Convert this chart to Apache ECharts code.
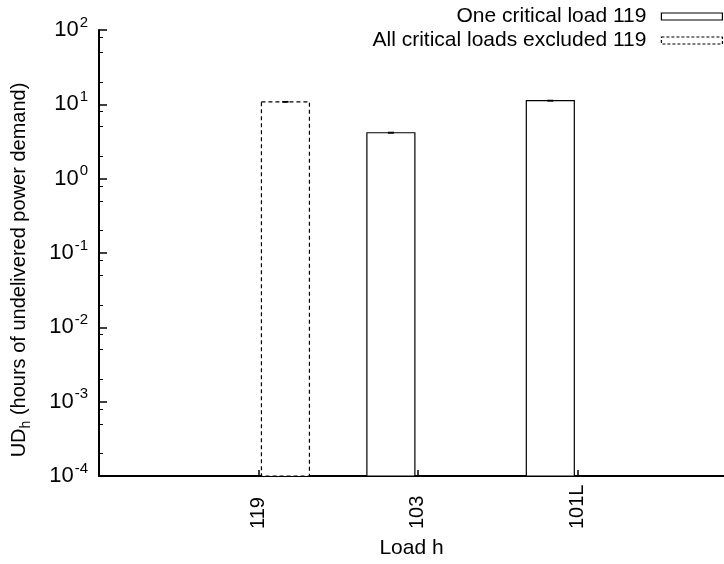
<!DOCTYPE html>
<html>
<head>
<meta charset="utf-8">
<script src="https://cdn.jsdelivr.net/npm/echarts@6/dist/echarts.min.js"></script>
<style>html,body{margin:0;padding:0;background:#fff}#c{width:724px;height:564px}</style>
</head>
<body>
<div id="c"></div>
<script>
const categories = ['119', '103', '101L'];
const oneCritical = [null, 4.15, 11.2];
const allExcluded = [10.8, null, null];
const oneCriticalErr = [null, 0.05, 0.12];
const allExcludedErr = [0.1, null, null];
const yMajorExponents = [-4, -3, -2, -1, 0, 1, 2];
const yMinorMantissas = [2, 5, 8];

const FONT = 'Liberation Sans, Arial, Helvetica, sans-serif';
const Y_MIN = Math.pow(10, yMajorExponents[0]);
const Y_MAX = Math.pow(10, yMajorExponents[yMajorExponents.length - 1]);
const minorTicks = [];
yMajorExponents.slice(0, -1).forEach(e => yMinorMantissas.forEach(m => minorTicks.push(m * Math.pow(10, e))));
const catIdx = categories.map((c, i) => i);

const BAR_W = 48, BAR_OFF = 27;

function pts(vals, errs) {
  const out = [];
  vals.forEach((v, i) => { if (v != null) out.push([i, v, errs[i]]); });
  return out;
}
function barRender(off, dash) {
  return function (params, api) {
    const i = api.value(0), v = api.value(1);
    const t = api.coord([i, v]);
    const b = api.coord([i, Y_MIN]);
    const x = t[0] + off;
    return { type: 'rect',
      shape: { x: x - BAR_W / 2, y: t[1], width: BAR_W, height: b[1] - t[1] },
      style: { fill: '#fff', stroke: '#000', lineWidth: 1.2, lineDash: dash } };
  };
}
function errRender(off) {
  return function (params, api) {
    const i = api.value(0), v = api.value(1), e = api.value(2);
    const t = api.coord([i, v + e]);
    const b = api.coord([i, v - e]);
    const x = t[0] + off;
    const st = { stroke: '#000', lineWidth: 1.2 };
    return { type: 'group', children: [
      { type: 'line', shape: { x1: x, y1: t[1], x2: x, y2: b[1] }, style: st },
      { type: 'line', shape: { x1: x - 3, y1: t[1], x2: x + 3, y2: t[1] }, style: st },
      { type: 'line', shape: { x1: x - 3, y1: b[1], x2: x + 3, y2: b[1] }, style: st }
    ]};
  };
}

const chart = echarts.init(document.getElementById('c'));
chart.setOption({
  animation: false,
  backgroundColor: '#fff',
  textStyle: { fontFamily: FONT },
  legend: {
    orient: 'vertical', right: -4, top: 1, align: 'right',
    itemWidth: 61, itemHeight: 7, itemGap: 3,
    textStyle: { fontFamily: FONT, fontSize: 21, color: '#000', padding: [0, 10, 0, 0] },
    data: [
      { name: 'One critical load 119', icon: 'rect',
        itemStyle: { color: '#fff', borderColor: '#000', borderWidth: 1.2, borderType: 'solid' } },
      { name: 'All critical loads excluded 119', icon: 'rect',
        itemStyle: { color: '#fff', borderColor: '#000', borderWidth: 1.2, borderType: [3, 2] } }
    ]
  },
  grid: { left: 99, top: 30, right: 0, height: 449 },
  xAxis: {
    type: 'value', min: -1, max: 2.92, interval: 1,
    name: 'Load h', nameLocation: 'middle', nameGap: 62,
    nameTextStyle: { fontFamily: FONT, fontSize: 21, color: '#000' },
    axisLine: { onZero: false, lineStyle: { color: '#000', width: 2 } },
    axisTick: { inside: true, length: 6, customValues: catIdx, lineStyle: { color: '#000', width: 1.5 } },
    axisLabel: { customValues: catIdx, formatter: v => categories[Math.round(v)] || '',
      rotate: 90, align: 'left', verticalAlign: 'middle', margin: 53,
      fontFamily: FONT, fontSize: 20, color: '#000' },
    splitLine: { show: false }
  },
  yAxis: [{
    type: 'log', logBase: 10, min: Y_MIN, max: Y_MAX,
    name: '{m|UD}{s|h}{m| (hours of undelivered power demand)}',
    nameLocation: 'middle', nameGap: 66, nameRotate: 90,
    nameTextStyle: { fontFamily: FONT, color: '#000', padding: [0, 34, 0, 0],
      rich: { m: { fontFamily: FONT, fontSize: 20, color: '#000', lineHeight: 24, verticalAlign: 'top' },
              s: { fontFamily: FONT, fontSize: 14, color: '#000', lineHeight: 14, verticalAlign: 'bottom' } } },
    axisLine: { show: true, onZero: false, lineStyle: { color: '#000', width: 2 } },
    axisTick: { show: true, inside: true, length: 8, lineStyle: { color: '#000', width: 1.5 } },
    splitLine: { show: false },
    axisLabel: {
      margin: 11, color: '#000',
      formatter: v => '{b|10}{s|' + Math.round(Math.log10(v)) + '}',
      rich: {
        b: { fontFamily: FONT, fontSize: 22, color: '#000', lineHeight: 22, verticalAlign: 'bottom' },
        s: { fontFamily: FONT, fontSize: 15, color: '#000', lineHeight: 15, verticalAlign: 'bottom', padding: [0, 0, 11, 1] }
      }
    }
  }, {
    type: 'log', logBase: 10, min: Y_MIN, max: Y_MAX, position: 'left',
    axisLine: { show: false, onZero: false }, axisLabel: { show: false }, splitLine: { show: false },
    axisTick: { show: true, inside: true, length: 4, customValues: minorTicks, lineStyle: { color: '#000', width: 1 } }
  }],
  series: [{
    name: 'One critical load 119', type: 'custom', renderItem: barRender(-BAR_OFF, null),
    data: pts(oneCritical, oneCriticalErr),
    itemStyle: { color: '#fff', borderColor: '#000' }, z: 2
  }, {
    name: 'All critical loads excluded 119', type: 'custom', renderItem: barRender(BAR_OFF, [4, 3]),
    data: pts(allExcluded, allExcludedErr),
    itemStyle: { color: '#fff', borderColor: '#000' }, z: 2
  }, {
    type: 'custom', renderItem: errRender(-BAR_OFF), data: pts(oneCritical, oneCriticalErr), z: 5
  }, {
    type: 'custom', renderItem: errRender(BAR_OFF), data: pts(allExcluded, allExcludedErr), z: 5
  }]
});
</script>
</body>
</html>
